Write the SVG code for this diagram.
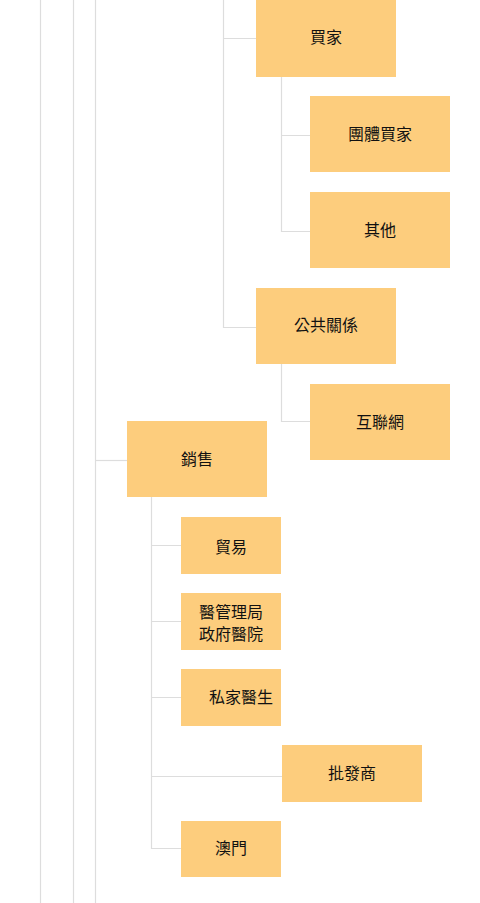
<svg xmlns="http://www.w3.org/2000/svg" width="480" height="903" viewBox="0 0 480 903">
<style>
.n{fill:#fdcd7d}
.t{font-family:"Liberation Sans","Noto Sans CJK TC",sans-serif;font-size:16px;fill:#111111;text-anchor:middle;dominant-baseline:central}
.c{stroke:#dddddd;stroke-width:1.2;fill:none}
</style>
<rect width="480" height="903" fill="#ffffff"/>
<g id="connectors">
<path class="c" d="M40.5 0V903M73.5 0V903M95.5 0V903"/>
<path class="c" d="M223.5 0V327.5H256M223.5 38.5H256"/>
<path class="c" d="M281.5 77V231.5H310M281.5 135.5H310"/>
<path class="c" d="M281.5 364V421.5H310"/>
<path class="c" d="M95.5 460.5H127"/>
<path class="c" d="M151.5 497V848.5H181M151.5 545.5H181M151.5 621.5H181M151.5 697.5H181M151.5 776.5H282"/>
</g>
<g id="n1"><rect class="n" x="256" y="0" width="140" height="77"/><text class="t" x="326" y="37">買家</text></g>
<g id="n2"><rect class="n" x="310" y="96" width="140" height="76"/><text class="t" x="380" y="134">團體買家</text></g>
<g id="n3"><rect class="n" x="310" y="192" width="140" height="76"/><text class="t" x="380" y="230">其他</text></g>
<g id="n4"><rect class="n" x="256" y="288" width="140" height="76"/><text class="t" x="326" y="325">公共關係</text></g>
<g id="n5"><rect class="n" x="310" y="384" width="140" height="76"/><text class="t" x="380" y="422">互聯網</text></g>
<g id="n6"><rect class="n" x="127" y="421" width="140" height="76"/><text class="t" x="197" y="459">銷售</text></g>
<g id="n7"><rect class="n" x="181" y="517" width="100" height="57"/><text class="t" x="231" y="547">貿易</text></g>
<g id="n8"><rect class="n" x="181" y="593" width="100" height="57"/><text class="t" x="231" y="612">醫管理局</text><text class="t" x="231" y="634">政府醫院</text></g>
<g id="n9"><rect class="n" x="181" y="669" width="100" height="57"/><text class="t" x="241" y="697">私家醫生</text></g>
<g id="n10"><rect class="n" x="282" y="745" width="140" height="57"/><text class="t" x="352" y="773">批發商</text></g>
<g id="n11"><rect class="n" x="181" y="821" width="100" height="56"/><text class="t" x="231" y="848">澳門</text></g>
</svg>
